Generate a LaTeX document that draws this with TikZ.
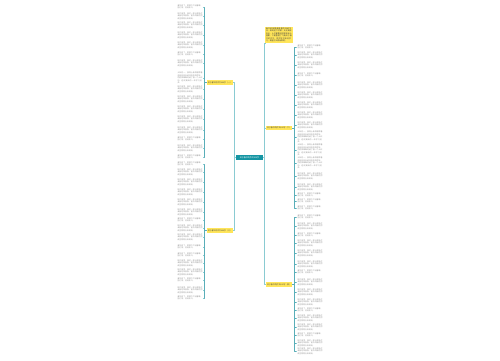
\documentclass[tikz,border=0pt]{standalone}
\usepackage{fontspec}
\newfontfamily\cjk{Noto Sans CJK SC}
\usetikzlibrary{positioning}
\XeTeXlinebreaklocale "zh"
\XeTeXlinebreakskip=0pt plus 1pt
\definecolor{topicteal}{HTML}{1595A3}
\definecolor{linkteal}{HTML}{8ACBD2}
\definecolor{stemteal}{HTML}{5AAEB8}
\definecolor{branchyellow}{HTML}{FFE55A}

\newcommand\leafA{春节到了，家家户户贴春联、挂灯笼，热闹非凡。}
\newcommand\leafB{除夕夜里，我们一家人围坐在桌前吃年夜饭，窗外的烟花把夜空照得五彩缤纷。}
\newcommand\leafC{大年初一，我穿上新衣服跟着爸爸妈妈去给爷爷奶奶拜年，奶奶笑眯眯地给了我一个大红包，还祝我新的一年学习进步。}

\begin{document}
\begin{tikzpicture}[x=1pt,y=-1pt,line join=round]
  \tikzstyle{topic}=[fill=topicteal,text=white,font=\cjk\fontsize{2}{2.5}\selectfont,inner sep=0.8pt,minimum width=27pt,minimum height=4.6pt]
  \tikzstyle{branch}=[fill=branchyellow,text=black!75,font=\cjk\fontsize{1.9}{2.5}\selectfont,inner sep=0.6pt,minimum width=26pt,minimum height=4.6pt]
  \tikzstyle{leaf}=[text=black!42,font=\cjk\fontsize{1.9}{2.5}\selectfont,inner sep=0.3pt,text width=25pt,align=left]
  \tikzstyle{link}=[draw=linkteal,line width=0.6pt]
  \tikzstyle{stem}=[draw=stemteal,line width=1pt]
  \tikzstyle{twig}=[draw=linkteal,line width=0.3pt]

  \useasboundingbox (0,0) rectangle (500,360);

  \node[topic]               (c)   at (249.5,157.5) {关于春节的作文600字};
  \node[branch,anchor=east]  (l_1) at (233,82.5)    {关于春节的作文600字（一）};
  \node[branch,anchor=east]  (l_2) at (233,230.5)   {关于春节的作文600字（三）};
  \node[branch,anchor=south west,text width=26pt,align=left,inner sep=0.8pt]
                             (r_1) at (265,43)      {春节是我国最隆重的传统节日，每到这个时候，无论离家多远，人们都要赶回家和亲人团聚。下面整理了几篇关于春节的作文，供同学们参考学习，希望对大家有帮助。};
  \node[branch,anchor=west]  (r_2) at (266,128)     {关于春节的作文600字（二）};
  \node[branch,anchor=west]  (r_3) at (266,284.5)   {关于春节的作文600字（四）};

  % trunk
  \draw[link] (c.west) -- ++(-1.5,0) |- (l_1.east);
  \draw[link] (c.west) -- ++(-1.5,0) |- (l_2.east);
  \draw[link] (c.east) -- ++(1.5,0) |- (r_1.south west);
  \draw[link] (c.east) -- ++(1.5,0) |- (r_2.west);
  \draw[link] (c.east) -- ++(1.5,0) |- (r_3.west);

  % left leaves
  \foreach \y/\t [count=\i] in {7/A,16/B,25/B,35/B,45/B,54/A,63/B,78/C,89/B,99/B,109/B,119/B,130/B,139/A,148/B,157/A} {
    \node[leaf,anchor=east] (a_\i) at (203,\y) {\csname leaf\t\endcsname};
    \draw[stem] (l_1.west) -- ++(-2,0) |- ([xshift=1pt]a_\i.east);
    \draw[twig] ([xshift=1pt]a_\i.east) -- (a_\i.east);
  }
  \foreach \y/\t [count=\i] in {164/A,172/B,182/B,192/B,202/B,212/B,220/A,228/B,237/B,247/A,255/A,263/B,272/B,280/A,290/B,298/A} {
    \node[leaf,anchor=east] (b_\i) at (203,\y) {\csname leaf\t\endcsname};
    \draw[stem] (l_2.west) -- ++(-2,0) |- ([xshift=1pt]b_\i.east);
    \draw[twig] ([xshift=1pt]b_\i.east) -- (b_\i.east);
  }

  % right leaves
  \foreach \y/\t [count=\i] in {47/A,55/B,65/B,75/A,85/B,95/B,105/B,115/B,125/B,137/C,150/C,163/C,176/B,187/B,195/A,201/A,208/A} {
    \node[leaf,anchor=west] (d_\i) at (297,\y) {\csname leaf\t\endcsname};
    \draw[stem] (r_2.east) -- ++(2,0) |- ([xshift=-1pt]d_\i.west);
    \draw[twig] ([xshift=-1pt]d_\i.west) -- (d_\i.west);
  }
  \foreach \y/\t [count=\i] in {217/A,226/B,235/A,243/B,253/B,264/B,272/A,282/B,292/B,302/B,310/A,318/B,327/B,335/A,343/B,351/B} {
    \node[leaf,anchor=west] (e_\i) at (297,\y) {\csname leaf\t\endcsname};
    \draw[stem] (r_3.east) -- ++(2,0) |- ([xshift=-1pt]e_\i.west);
    \draw[twig] ([xshift=-1pt]e_\i.west) -- (e_\i.west);
  }
\end{tikzpicture}
\end{document}
